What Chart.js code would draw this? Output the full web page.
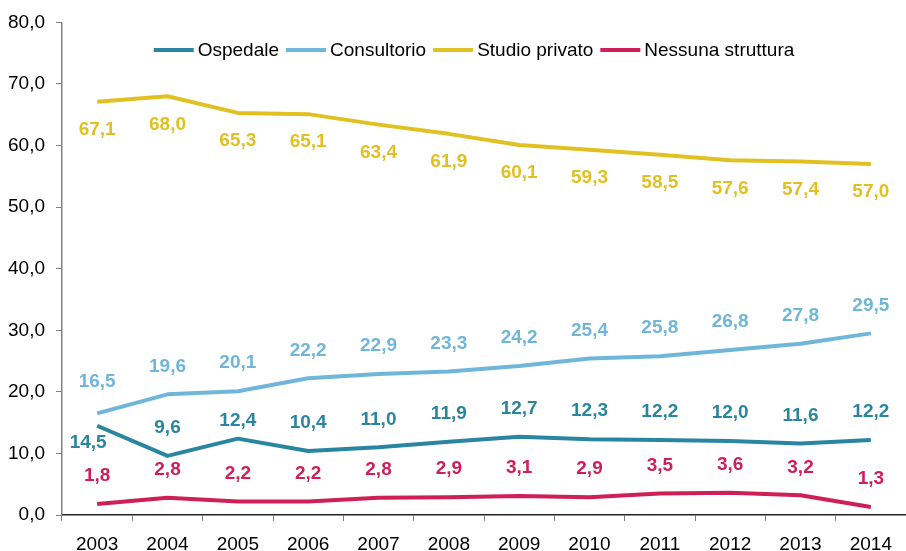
<!DOCTYPE html>
<html>
<head>
<meta charset="utf-8">
<script src="https://cdn.jsdelivr.net/npm/chart.js@4"></script>
<style>
  html, body { margin: 0; padding: 0; background: #fff; }
  #wrap { width: 906px; height: 551px; position: relative; }
</style>
</head>
<body>
<div id="wrap"><canvas id="c"></canvas></div>
<script>
const years = ['2003','2004','2005','2006','2007','2008','2009','2010','2011','2012','2013','2014'];
const ospedale    = [14.5, 9.6, 12.4, 10.4, 11.0, 11.9, 12.7, 12.3, 12.2, 12.0, 11.6, 12.2];
const consultorio = [16.5, 19.6, 20.1, 22.2, 22.9, 23.3, 24.2, 25.4, 25.8, 26.8, 27.8, 29.5];
const studio      = [67.1, 68.0, 65.3, 65.1, 63.4, 61.9, 60.1, 59.3, 58.5, 57.6, 57.4, 57.0];
const nessuna     = [1.8, 2.8, 2.2, 2.2, 2.8, 2.9, 3.1, 2.9, 3.5, 3.6, 3.2, 1.3];
const seriesNames = ['Ospedale', 'Consultorio', 'Studio privato', 'Nessuna struttura'];
const yTicks = [0, 10, 20, 30, 40, 50, 60, 70, 80];

const FONT = "'Liberation Sans', Arial, Helvetica, sans-serif";
const fmt = v => v.toFixed(1).replace('.', ',');

// label style: default vertical offset per series, and a few manual nudges (dx, dy)
const labelStyle = [
  { color: '#2a86a0', dy: -28, nudge: { 0: [-9, 17], 2: [0, -18] } },
  { color: '#6fb6d8', dy: -28, nudge: { 0: [0, -32] } },
  { color: '#e1c022', dy: 28, nudge: {} },
  { color: '#cf1f57', dy: -28, nudge: {} }
];

const valueLabels = {
  id: 'valueLabels',
  afterDatasetsDraw(chart) {
    const ctx = chart.ctx;
    const xs = chart.scales.x, ys = chart.scales.y;
    ctx.save();
    ctx.font = 'bold 19px ' + FONT;
    ctx.textAlign = 'center';
    ctx.textBaseline = 'middle';
    chart.data.datasets.forEach((ds, i) => {
      const st = labelStyle[i];
      ctx.fillStyle = st.color;
      ds.data.forEach((v, j) => {
        const n = st.nudge[j];
        const x = xs.getPixelForValue(j) + (n ? n[0] : 0);
        const y = ys.getPixelForValue(v) + (n ? n[1] : st.dy);
        ctx.fillText(fmt(v), x, y);
      });
    });
    ctx.restore();
  }
};

const customLegend = {
  id: 'customLegend',
  afterDraw(chart) {
    const ctx = chart.ctx;
    const ca = chart.chartArea;
    ctx.save();
    ctx.font = '19px ' + FONT;
    const sw = 40, gapText = 4, gapItem = 7;
    const items = chart.data.datasets.map(ds => ({ label: ds.label, color: ds.borderColor, w: ctx.measureText(ds.label).width }));
    let total = items.reduce((a, it) => a + sw + gapText + it.w, 0) + gapItem * (items.length - 1);
    let x = (ca.left + ca.right) / 2 - 10 - total / 2;
    const y = 50;
    ctx.textBaseline = 'middle';
    ctx.textAlign = 'left';
    items.forEach(it => {
      ctx.fillStyle = it.color;
      ctx.fillRect(x, y - 2, sw, 4);
      ctx.fillStyle = '#000';
      ctx.fillText(it.label, x + sw + gapText, y + 1);
      x += sw + gapText + it.w + gapItem;
    });
    ctx.restore();
  }
};

const colors = ['#2a86a0', '#6fb6d8', '#e1c022', '#cf1f57'];
const seriesData = [ospedale, consultorio, studio, nessuna];

new Chart(document.getElementById('c'), {
  type: 'line',
  data: {
    labels: years,
    datasets: seriesData.map((d, i) => ({
      label: seriesNames[i],
      data: d,
      borderColor: colors[i],
      backgroundColor: colors[i],
      borderWidth: 4,
      pointRadius: 0,
      tension: 0,
      borderJoinStyle: 'round',
      fill: false
    }))
  },
  options: {
    responsive: true,
    maintainAspectRatio: false,
    animation: false,
    layout: { padding: { top: 20, right: 0, left: 0, bottom: 0 } },
    plugins: { legend: { display: false }, tooltip: { enabled: false } },
    font: { family: FONT },
    scales: {
      x: {
        type: 'category',
        offset: true,
        grid: { display: true, drawOnChartArea: false, drawTicks: true, tickLength: 6, offset: true, color: '#808080' },
        border: { display: true, color: '#222', width: 1.5 },
        ticks: { color: '#000', font: { family: FONT, size: 19 }, padding: 12, maxRotation: 0, autoSkip: false },
        afterFit(scale) { scale.height = 36; }
      },
      y: {
        min: 0,
        max: 80,
        afterBuildTicks(scale) { scale.ticks = yTicks.map(v => ({ value: v })); },
        grid: { display: true, drawOnChartArea: false, drawTicks: true, tickLength: 6, color: '#808080' },
        border: { display: true, color: '#808080', width: 1.5 },
        ticks: { color: '#000', font: { family: FONT, size: 19 }, padding: 11, callback: v => fmt(v) },
        afterFit(scale) { scale.width = 62; }
      }
    }
  },
  plugins: [valueLabels, customLegend]
});
</script>
</body>
</html>
